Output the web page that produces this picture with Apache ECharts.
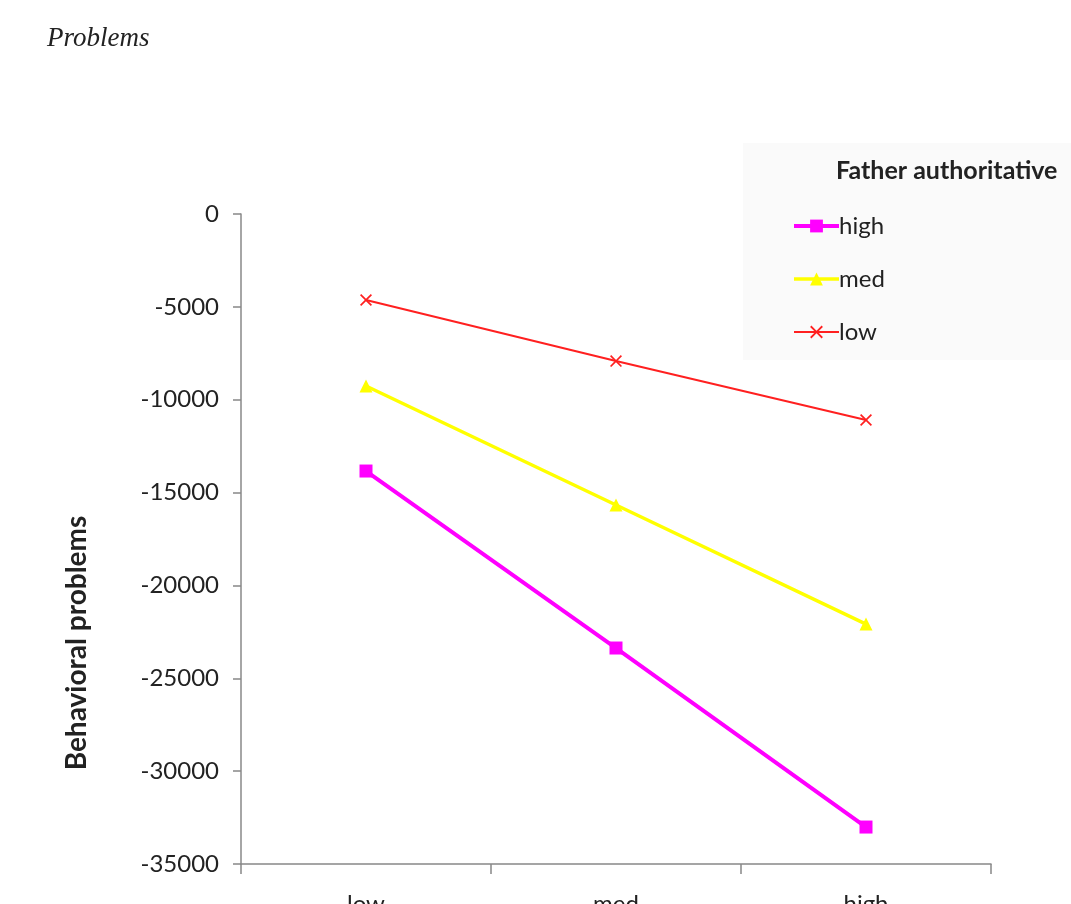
<!DOCTYPE html>
<html>
<head>
<meta charset="utf-8">
<script src="https://cdn.jsdelivr.net/npm/echarts@6/dist/echarts.min.js"></script>
<style>
  html, body { margin: 0; padding: 0; background: #fff; overflow: hidden; }
  #chart { width: 1071px; height: 904px; filter: blur(0.5px); }
</style>
</head>
<body>
<div id="chart"></div>
<script>
// Categories on the horizontal axis
const categories = ['low', 'med', 'high'];
// One line per level of father authoritativeness
const seriesNames = ['high', 'med', 'low'];
const highValues = [-13840, -23370, -33010];
const medValues = [-9260, -15670, -22080];
const lowValues = [-4630, -7920, -11090];
// Vertical axis range and step
const yMin = -35000;
const yMax = 0;
const yStep = 5000;

const crossPath = 'path://M0,1L1,0L5,4L9,0L10,1L6,5L10,9L9,10L5,6L1,10L0,9L4,5Z';
const labelFont = 'Lato, "Open Sans", sans-serif';
const legendLineWidths = { high: 4, med: 3.5, low: 2 };

const chart = echarts.init(document.getElementById('chart'), null, { renderer: 'canvas' });

chart.setOption({
  backgroundColor: '#ffffff',
  animation: false,
  graphic: [
    {
      type: 'rect',
      left: 743, top: 143,
      shape: { width: 328, height: 217 },
      style: { fill: '#fafafa' },
      z: -1
    },
    {
      type: 'text',
      left: 47, top: 25,
      style: {
        text: 'Problems',
        font: 'italic 27px "Liberation Serif", "DejaVu Serif", serif',
        fill: '#222'
      }
    },
    {
      type: 'text',
      left: 836, top: 158,
      style: {
        text: 'Father authoritative',
        font: 'bold 25px Lato, "Open Sans", sans-serif',
        fill: '#222'
      }
    },
    {
      // vertical axis title
      type: 'text',
      x: 77, y: 643,
      rotation: Math.PI / 2,
      style: {
        text: 'Behavioral problems',
        font: 'bold 28px Lato, "Open Sans", sans-serif',
        fill: '#222',
        align: 'center',
        verticalAlign: 'middle'
      }
    }
  ],
  legend: {
    orient: 'vertical',
    left: 787,
    top: 209,
    itemWidth: 45,
    itemHeight: 16,
    itemGap: 29,
    data: seriesNames.map(n => ({ name: n, lineStyle: { width: legendLineWidths[n] } })),
    textStyle: { fontSize: 24, fontFamily: labelFont, color: '#222', padding: [0, 0, 0, -5] }
  },
  grid: { left: 241, top: 214, width: 750, height: 650, outerBoundsMode: 'none' },
  xAxis: {
    type: 'category',
    data: categories,
    boundaryGap: true,
    axisLine: { onZero: false, lineStyle: { color: '#888', width: 1.5 } },
    axisTick: { show: true, length: 10, lineStyle: { color: '#888', width: 1.5 } },
    axisLabel: { margin: 28, fontSize: 24, fontFamily: labelFont, color: '#222' },
    splitLine: { show: false }
  },
  yAxis: {
    type: 'value',
    min: yMin,
    max: yMax,
    interval: yStep,
    axisLine: { show: true, lineStyle: { color: '#888', width: 1.5 } },
    axisTick: { show: true, inside: false, length: 8, lineStyle: { color: '#888', width: 1.5 } },
    axisLabel: {
      margin: 22, fontSize: 24, fontFamily: labelFont, color: '#222',
      formatter: v => String(v)
    },
    splitLine: { show: false }
  },
  series: [
    {
      name: 'high',
      type: 'line',
      data: highValues,
      symbol: 'rect',
      symbolSize: 13,
      color: '#ff00ff',
      lineStyle: { width: 4, color: '#ff00ff' },
      itemStyle: { color: '#ff00ff' }
    },
    {
      name: 'med',
      type: 'line',
      data: medValues,
      symbol: 'triangle',
      symbolSize: 13,
      color: '#ffff00',
      lineStyle: { width: 3.5, color: '#ffff00' },
      itemStyle: { color: '#ffff00' }
    },
    {
      name: 'low',
      type: 'line',
      data: lowValues,
      symbol: crossPath,
      symbolSize: 12,
      color: '#ff2020',
      lineStyle: { width: 2, color: '#ff2020' },
      itemStyle: { color: '#ff2020' }
    }
  ]
});
</script>
</body>
</html>
